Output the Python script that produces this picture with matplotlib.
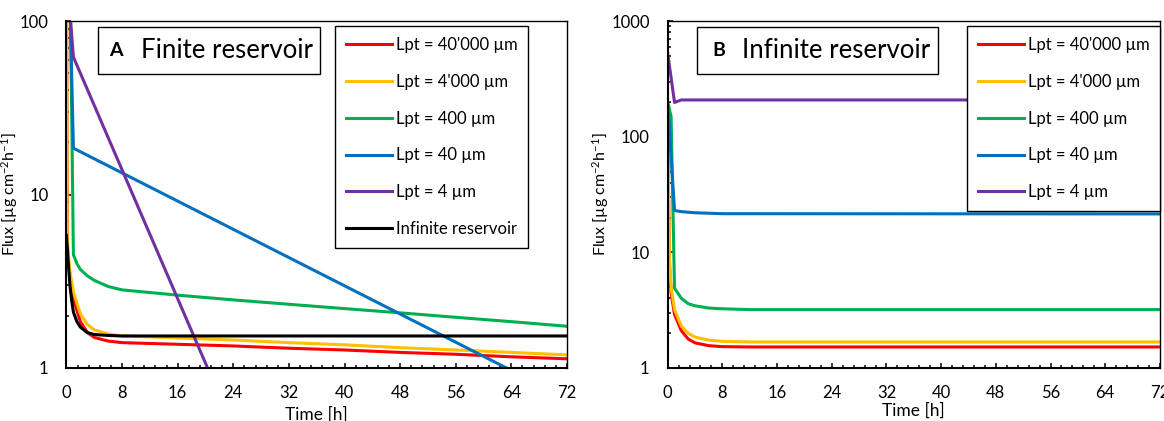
import matplotlib
matplotlib.use('Agg')
import matplotlib.pyplot as plt
from matplotlib.ticker import LogLocator, MultipleLocator, FixedLocator, FuncFormatter, NullFormatter
from matplotlib.patches import Rectangle

# ---------------- data ----------------
labels = ["Lpt = 40'000 µm", "Lpt = 4'000 µm", "Lpt = 400 µm", "Lpt = 40 µm", "Lpt = 4 µm", "Infinite reservoir"]
colors = ["#FF0000", "#FFC000", "#00B050", "#0070C0", "#7030A0", "#000000"]

# Panel A: finite reservoir
a_t_red = [0, 0.1, 0.25, 0.5, 1, 2, 3, 4, 6, 8, 16, 24, 32, 40, 48, 56, 64, 72]
a_red = [300, 5.5, 4.3, 3.3, 2.5, 1.85, 1.6, 1.5, 1.43, 1.40, 1.37, 1.34, 1.30, 1.27, 1.23, 1.20, 1.16, 1.13]
a_t_yel = [0, 0.1, 0.25, 0.5, 1, 2, 3, 4, 6, 8, 16, 24, 32, 40, 48, 56, 64, 72]
a_yel = [300, 6.0, 4.6, 3.6, 2.75, 2.05, 1.78, 1.66, 1.57, 1.53, 1.49, 1.45, 1.40, 1.36, 1.31, 1.27, 1.23, 1.19]
a_t_grn = [0, 0.5, 1, 1.5, 2, 3, 4, 6, 8, 16, 24, 32, 40, 48, 56, 64, 72]
a_grn = [300, 200, 4.5, 4.0, 3.7, 3.4, 3.2, 2.95, 2.82, 2.63, 2.47, 2.33, 2.2, 2.08, 1.96, 1.85, 1.74]
a_t_blu = [0, 1, 63.3]
a_blu = [900, 18.5, 1.0]
a_t_pur = [0, 1, 20.3]
a_pur = [200, 62, 1.0]
a_t_blk = [0, 0.25, 0.5, 0.75, 1, 1.5, 2, 3, 4, 6, 8, 72]
a_blk = [5.8, 4.1, 3.0, 2.45, 2.1, 1.85, 1.72, 1.6, 1.56, 1.54, 1.53, 1.53]

# Panel B: infinite reservoir
b_t_red = [0, 0.25, 0.5, 1, 2, 3, 4, 6, 8, 12, 72]
b_red = [150, 8, 4.5, 2.9, 2.1, 1.78, 1.65, 1.56, 1.53, 1.52, 1.52]
b_t_yel = [0, 0.25, 0.5, 1, 2, 3, 4, 6, 8, 12, 72]
b_yel = [150, 9, 5, 3.2, 2.3, 2.0, 1.85, 1.74, 1.70, 1.68, 1.68]
b_t_grn = [0, 0.5, 1, 2, 3, 4, 6, 8, 12, 72]
b_grn = [200, 150, 4.9, 4.0, 3.6, 3.45, 3.3, 3.25, 3.2, 3.2]
b_t_blu = [0, 1, 2, 4, 8, 72]
b_blu = [200, 23, 22.5, 22, 21.6, 21.5]
b_t_pur = [0, 1, 2, 72]
b_pur = [530, 198, 208, 208]

x_ticks = [0, 8, 16, 24, 32, 40, 48, 56, 64, 72]

# ---------------- style ----------------
plt.rcParams['font.family'] = ['Lato', 'DejaVu Sans']
plt.rcParams['mathtext.default'] = 'regular'

fig = plt.figure(figsize=(11.64, 4.21), dpi=100)
axA = fig.add_axes([0.0571, 0.1259, 0.4300, 0.8240])
axB = fig.add_axes([0.5736, 0.1259, 0.4229, 0.8240])

LW = 2.2

seriesA = [(a_t_red, a_red), (a_t_yel, a_yel), (a_t_grn, a_grn),
           (a_t_blu, a_blu), (a_t_pur, a_pur), (a_t_blk, a_blk)]
seriesB = [(b_t_red, b_red), (b_t_yel, b_yel), (b_t_grn, b_grn),
           (b_t_blu, b_blu), (b_t_pur, b_pur)]

for ax, series, ymax in [(axA, seriesA, 100), (axB, seriesB, 1000)]:
    for (t, v), c, lab in zip(series, colors, labels):
        ax.plot(t, v, color=c, lw=LW, label=lab, solid_joinstyle='round')
    ax.set_yscale('log')
    ax.set_xlim(0, 72)
    ax.set_ylim(1, ymax)
    ax.xaxis.set_major_locator(FixedLocator(x_ticks))
    ax.xaxis.set_minor_locator(MultipleLocator(1.6))
    ax.yaxis.set_major_locator(LogLocator(base=10))
    ax.yaxis.set_minor_locator(LogLocator(base=10, subs=range(2, 10)))
    ax.yaxis.set_major_formatter(FuncFormatter(lambda v, p: f"{v:g}"))
    ax.yaxis.set_minor_formatter(NullFormatter())
    ax.tick_params(which='both', direction='in', width=1.1, colors='black', labelsize=12)
    ax.tick_params(which='major', length=3.6)
    ax.tick_params(which='minor', length=2.3)
    ax.tick_params(axis='x', which='both', pad=12)
    ax.tick_params(axis='y', which='both', pad=13)
    for s in ['left', 'bottom']:
        ax.spines[s].set_linewidth(1.5)
    for s in ['top', 'right']:
        ax.spines[s].set_linewidth(1.0)
    ax.set_xlabel('Time [h]', fontsize=12.5)
    ax.set_ylabel('Flux [µg cm$^{-2}$h$^{-1}$]', fontsize=11.5)

axA.xaxis.set_label_coords(0.5, -0.112)
axB.xaxis.set_label_coords(0.5, -0.100)
axA.yaxis.set_label_coords(-0.092, 0.5)
axB.yaxis.set_label_coords(-0.116, 0.5)

# title boxes
for ax, letter, title, x0, x1, xl, xt in [
        (axA, 'A', 'Finite reservoir', 0.063, 0.5065, 0.099, 0.149),
        (axB, 'B', 'Infinite reservoir', 0.0595, 0.549, 0.104, 0.151)]:
    ax.add_patch(Rectangle((x0, 0.847), x1 - x0, 0.983 - 0.847, transform=ax.transAxes,
                           facecolor='white', edgecolor='black', lw=1.0, zorder=5))
    ax.text(xl, 0.916, letter, transform=ax.transAxes, ha='center', va='center',
            fontsize=14, fontweight='bold', zorder=6)
    ax.text(xt, 0.916, title, transform=ax.transAxes, ha='left', va='center',
            fontsize=18.5, zorder=6)

# legends
for ax, anchor in [(axA, (0.5365, 0.9856)), (axB, (0.608, 0.9856))]:
    leg = ax.legend(loc='upper left', bbox_to_anchor=anchor, borderaxespad=0,
                    fontsize=12, labelspacing=1.25, handlelength=2.75, handletextpad=0.25,
                    borderpad=0.65, frameon=True, fancybox=False, edgecolor='black',
                    framealpha=1)
    leg.get_frame().set_linewidth(1.0)
    leg.set_zorder(7)

fig.savefig('out.png', dpi=100)
